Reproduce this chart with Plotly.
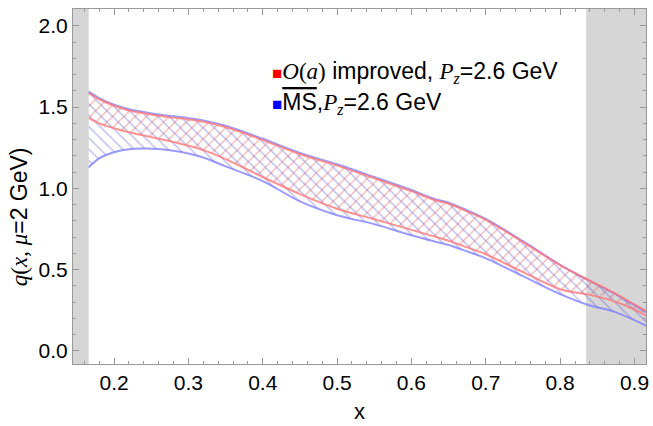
import plotly.graph_objects as go

# ---- data ----
x_vals = [0.166, 0.18, 0.2, 0.22, 0.24, 0.26, 0.28, 0.3, 0.32, 0.35, 0.4, 0.45, 0.5,
          0.55, 0.6, 0.63, 0.65, 0.67, 0.7, 0.75, 0.8, 0.84, 0.87, 0.9, 0.92]

msbar_upper = [1.595, 1.555, 1.515, 1.487, 1.470, 1.455, 1.443, 1.432, 1.418, 1.385, 1.305,
               1.218, 1.148, 1.070, 0.990, 0.937, 0.912, 0.875, 0.812, 0.675, 0.530, 0.430,
               0.360, 0.280, 0.225]
msbar_lower = [1.130, 1.185, 1.222, 1.240, 1.245, 1.242, 1.232, 1.215, 1.190, 1.135, 1.045,
               0.920, 0.835, 0.780, 0.712, 0.675, 0.652, 0.620, 0.570, 0.460, 0.350, 0.280,
               0.245, 0.190, 0.145]
oa_upper = [1.588, 1.548, 1.508, 1.479, 1.462, 1.447, 1.435, 1.424, 1.410, 1.377, 1.297,
            1.210, 1.140, 1.062, 0.983, 0.930, 0.905, 0.868, 0.806, 0.670, 0.528, 0.432,
            0.364, 0.286, 0.235]
oa_lower = [1.432, 1.400, 1.370, 1.345, 1.325, 1.305, 1.285, 1.262, 1.235, 1.180, 1.070,
            0.965, 0.875, 0.810, 0.745, 0.705, 0.678, 0.645, 0.595, 0.485, 0.380, 0.345,
            0.310, 0.255, 0.205]

x_tick_vals = [0.2, 0.3, 0.4, 0.5, 0.6, 0.7, 0.8, 0.9]
y_tick_vals = [0.0, 0.5, 1.0, 1.5, 2.0]
excluded_left = [0.1448, 0.166]
excluded_right = [0.835, 0.9155]

BLUE_LINE = "rgba(120,120,255,0.75)"
RED_LINE = "rgba(255,120,120,0.8)"
BLUE_HATCH = "rgba(90,90,220,0.9)"
RED_HATCH = "rgba(225,90,90,0.9)"

fig = go.Figure()

# MS-bar band
fig.add_trace(go.Scatter(x=x_vals, y=msbar_lower, mode="lines",
                         line=dict(color=BLUE_LINE, width=2, shape="spline"),
                         showlegend=False, hoverinfo="skip"))
fig.add_trace(go.Scatter(x=x_vals, y=msbar_upper, mode="lines", fill="tonexty",
                         fillcolor="rgba(0,0,0,0)",
                         fillpattern=dict(shape="\\", fgcolor=BLUE_HATCH, bgcolor="rgba(0,0,0,0)",
                                          size=8, solidity=0.16),
                         line=dict(color=BLUE_LINE, width=2, shape="spline"),
                         showlegend=False, hoverinfo="skip"))
# O(a) improved band
fig.add_trace(go.Scatter(x=x_vals, y=oa_lower, mode="lines",
                         line=dict(color=RED_LINE, width=2, shape="spline"),
                         showlegend=False, hoverinfo="skip"))
fig.add_trace(go.Scatter(x=x_vals, y=oa_upper, mode="lines", fill="tonexty",
                         fillcolor="rgba(0,0,0,0)",
                         fillpattern=dict(shape="/", fgcolor=RED_HATCH, bgcolor="rgba(0,0,0,0)",
                                          size=8, solidity=0.16),
                         line=dict(color=RED_LINE, width=2, shape="spline"),
                         showlegend=False, hoverinfo="skip"))

# grey excluded regions
for x0, x1 in (excluded_left, excluded_right):
    fig.add_shape(type="rect", xref="x", yref="paper", x0=x0, x1=x1, y0=0, y1=1,
                  fillcolor="rgb(214,214,214)", line=dict(width=0), layer="below")

axis_common = dict(showgrid=False, zeroline=False, showline=True, linecolor="#999999",
                   linewidth=1, mirror="ticks", ticks="inside", tickcolor="#999999",
                   ticklen=6, tickwidth=1,
                   tickfont=dict(family="Liberation Sans, Arial", size=21, color="black"))

fig.update_xaxes(range=[0.1448, 0.9155], tickvals=x_tick_vals,
                 ticktext=[f"{v:.1f}" for v in x_tick_vals],
                 minor=dict(dtick=0.02, tick0=0, ticks="inside", ticklen=3, tickcolor="#999999"),
                 title=dict(text="x", font=dict(family="Liberation Sans, Arial", size=22, color="black"),
                            standoff=10),
                 **axis_common)
fig.update_yaxes(range=[-0.08, 2.103], tickvals=y_tick_vals,
                 ticktext=[f"{v:.1f}" for v in y_tick_vals],
                 minor=dict(dtick=0.1, tick0=0, ticks="inside", ticklen=3, tickcolor="#999999"),
                 **axis_common)

# y-axis title (placed as rotated annotation to match reference position)
fig.add_annotation(xref="paper", yref="paper", x=-0.095, y=0.415, xanchor="center", yanchor="middle",
                   textangle=-90, showarrow=False,
                   font=dict(family="Liberation Sans, Arial", size=23, color="black"),
                   text="<span style=\"font-family:'Liberation Serif'\"><i>q</i>(<i>x</i>, <i>μ</i></span>=2 GeV)")

# legend as annotations
leg_font = dict(family="Liberation Sans, Arial", size=23, color="black")
fig.add_annotation(xref="paper", yref="paper", x=0.343, y=0.822, xanchor="left", yanchor="middle",
                   showarrow=False, font=leg_font,
                   text="<span style=\"color:red;font-size:17px\">■</span>"
                        "<span style=\"font-family:'Liberation Serif'\"><i>O</i>(<i>a</i>)</span> improved, "
                        "<span style=\"font-family:'Liberation Serif'\"><i>P<sub>z</sub></i></span>=2.6 GeV")
fig.add_annotation(xref="paper", yref="paper", x=0.343, y=0.733, xanchor="left", yanchor="middle",
                   showarrow=False, font=leg_font,
                   text="<span style=\"color:blue;font-size:17px\">■</span>"
                        "<span style=\"text-decoration:overline\">MS</span>,"
                        "<span style=\"font-family:'Liberation Serif'\"><i>P<sub>z</sub></i></span>=2.6 GeV")

fig.update_layout(width=653, height=426, margin=dict(l=73, r=4, t=9, b=62),
                  plot_bgcolor="white", paper_bgcolor="white", showlegend=False)

fig.write_html("out.html")
